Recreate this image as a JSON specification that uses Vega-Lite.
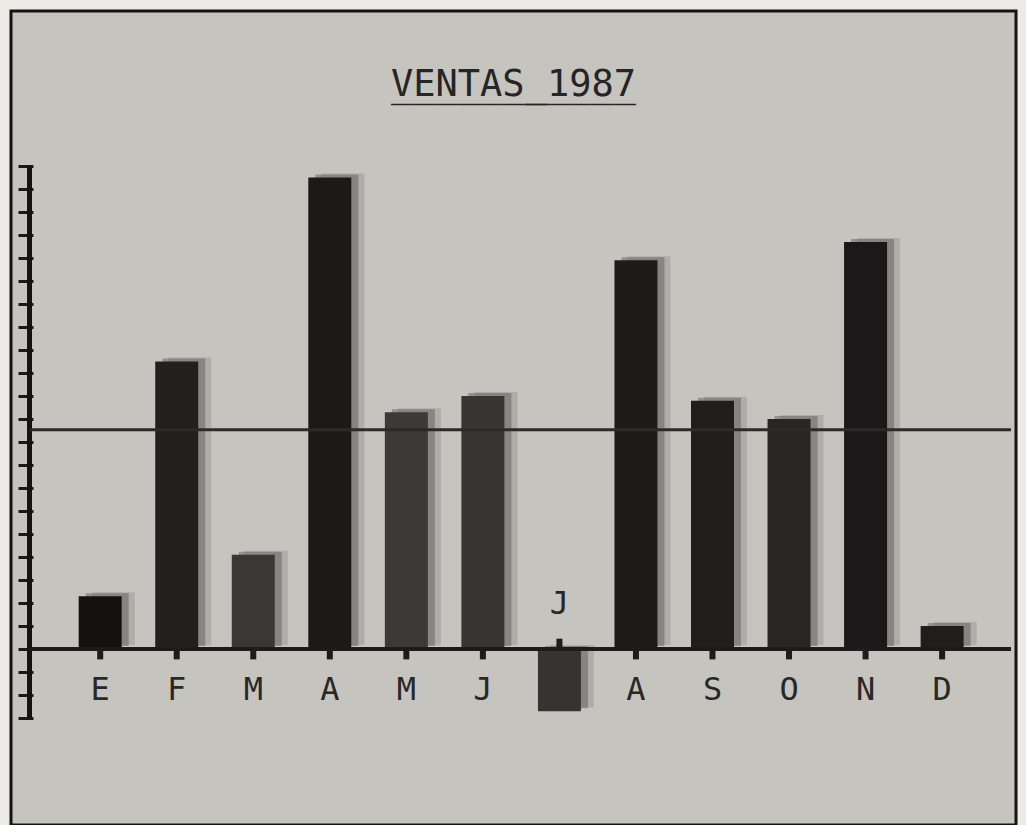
{
  "$schema": "https://vega.github.io/schema/vega-lite/v6.json",
  "width": 1005,
  "height": 814,
  "autosize": {"type": "none"},
  "padding": {"left": 11, "top": 11, "right": 10, "bottom": 0},
  "background": "#ecebe6",
  "config": {
    "view": {"fill": "#c6c4bf", "stroke": "#141212", "strokeWidth": 3},
    "axis": {"grid": false}
  },
  "title": {
    "text": "VENTAS_1987",
    "subtitle": "___________",
    "font": "DejaVu Sans Mono",
    "fontSize": 37,
    "fontWeight": "normal",
    "color": "#262424",
    "subtitleFont": "DejaVu Sans Mono",
    "subtitleFontSize": 37,
    "subtitleColor": "#262424",
    "subtitlePadding": -37,
    "offset": -93,
    "anchor": "middle",
    "frame": "group"
  },
  "data": {
    "values": [
      {"n": 1, "mes": "Enero", "letra": "E", "ventas": 23},
      {"n": 2, "mes": "Febrero", "letra": "F", "ventas": 125},
      {"n": 3, "mes": "Marzo", "letra": "M", "ventas": 41},
      {"n": 4, "mes": "Abril", "letra": "A", "ventas": 205},
      {"n": 5, "mes": "Mayo", "letra": "M", "ventas": 103},
      {"n": 6, "mes": "Junio", "letra": "J", "ventas": 110},
      {"n": 7, "mes": "Julio", "letra": "J", "ventas": -27},
      {"n": 8, "mes": "Agosto", "letra": "A", "ventas": 169},
      {"n": 9, "mes": "Septiembre", "letra": "S", "ventas": 108},
      {"n": 10, "mes": "Octubre", "letra": "O", "ventas": 100},
      {"n": 11, "mes": "Noviembre", "letra": "N", "ventas": 177},
      {"n": 12, "mes": "Diciembre", "letra": "D", "ventas": 10}
    ]
  },
  "layer": [
    {
      "mark": {"type": "bar", "width": 43, "xOffset": 13, "yOffset": -4, "color": "#5e5c5a", "opacity": 0.22},
      "encoding": {
        "x": {"field": "n", "type": "quantitative", "scale": {"domain": [-0.1, 12.9], "nice": false, "zero": false}, "axis": null},
        "y": {
          "field": "ventas", "type": "quantitative",
          "scale": {"domain": [-76.5, 277.4], "nice": false, "zero": false},
          "axis": {
            "values": [-30, -20, -10, 0, 10, 20, 30, 40, 50, 60, 70, 80, 90, 100, 110, 120, 130, 140, 150, 160, 170, 180, 190, 200, 210],
            "tickCount": 40,
            "domain": false, "labels": false, "ticks": true, "tickSize": 15, "tickWidth": 3,
            "tickColor": "#1a1818", "offset": -22, "title": null
          }
        }
      }
    },
    {
      "mark": {"type": "bar", "width": 43, "xOffset": 7, "yOffset": -3, "color": "#4a4846", "opacity": 0.4},
      "encoding": {
        "x": {"field": "n", "type": "quantitative"},
        "y": {"field": "ventas", "type": "quantitative"}
      }
    },
    {
      "mark": {"type": "bar", "width": 43},
      "encoding": {
        "x": {"field": "n", "type": "quantitative"},
        "y": {"field": "ventas", "type": "quantitative"},
        "color": {
          "field": "mes", "type": "nominal", "legend": null,
          "scale": {
            "domain": ["Enero", "Febrero", "Marzo", "Abril", "Mayo", "Junio", "Julio", "Agosto", "Septiembre", "Octubre", "Noviembre", "Diciembre"],
            "range": ["#141210", "#221f1e", "#3a3735", "#1c1a19", "#3c3938", "#383535", "#363333", "#1e1c1b", "#201e1d", "#282625", "#1a1818", "#201e1d"]
          }
        }
      }
    },
    {
      "mark": {"type": "rule", "color": "#141212", "strokeWidth": 4},
      "encoding": {
        "x": {"datum": 0.08},
        "y": {"datum": -30},
        "y2": {"datum": 210}
      }
    },
    {
      "mark": {"type": "rule", "color": "#1e1c1b", "strokeWidth": 3},
      "encoding": {
        "x": {"datum": 0.08},
        "x2": {"datum": 12.9},
        "y": {"datum": 0}
      }
    },
    {
      "mark": {"type": "rule", "color": "#2e2a2a", "strokeWidth": 3},
      "encoding": {
        "x": {"datum": 0.08},
        "x2": {"datum": 12.9},
        "y": {"aggregate": "mean", "field": "ventas", "type": "quantitative"}
      }
    },
    {
      "transform": [{"filter": "datum.ventas >= 0"}],
      "mark": {"type": "rule", "color": "#1e1c1b", "strokeWidth": 6},
      "encoding": {
        "x": {"field": "n", "type": "quantitative"},
        "y": {"datum": 0},
        "y2": {"datum": -4.5}
      }
    },
    {
      "transform": [{"filter": "datum.ventas < 0"}],
      "mark": {"type": "rule", "color": "#1e1c1b", "strokeWidth": 6},
      "encoding": {
        "x": {"field": "n", "type": "quantitative"},
        "y": {"datum": 0},
        "y2": {"datum": 4.5}
      }
    },
    {
      "transform": [{"filter": "datum.ventas >= 0"}],
      "mark": {"type": "text", "font": "DejaVu Sans Mono", "fontSize": 32, "color": "#2a2827", "baseline": "middle", "align": "center"},
      "encoding": {
        "x": {"field": "n", "type": "quantitative"},
        "y": {"datum": -18},
        "text": {"field": "letra"}
      }
    },
    {
      "transform": [{"filter": "datum.ventas < 0"}],
      "mark": {"type": "text", "font": "DejaVu Sans Mono", "fontSize": 32, "color": "#2a2827", "baseline": "middle", "align": "center"},
      "encoding": {
        "x": {"field": "n", "type": "quantitative"},
        "y": {"datum": 19.5},
        "text": {"field": "letra"}
      }
    }
  ]
}
